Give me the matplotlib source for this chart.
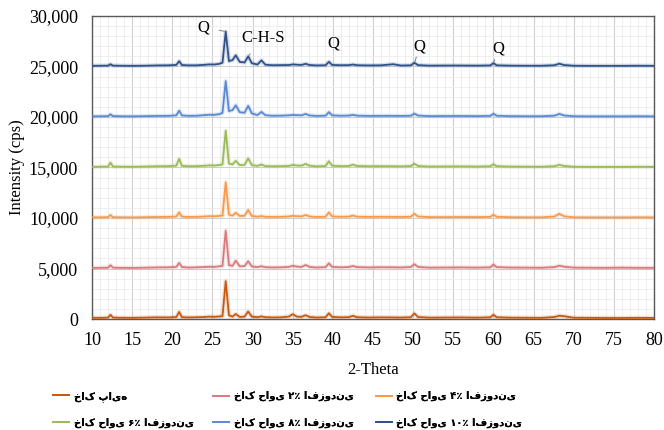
import matplotlib
matplotlib.use("Agg")
import matplotlib.pyplot as plt
from matplotlib.ticker import MultipleLocator, FuncFormatter

# 2-theta sample positions (denser around the peaks)
two_theta = [10, 11, 12, 12.3, 12.6,
             13.5, 15, 16.5, 18, 19.5,
             20.5, 20.85, 21.2, 22, 23,
             24, 24.6, 25.2, 25.8, 26.25,
             26.65, 27.05, 27.5, 27.9, 28.4,
             29.0, 29.45, 29.9, 30.6, 31.1,
             31.6, 32.5, 33.5, 34.5, 35.0,
             35.5, 36.1, 36.6, 37.1, 38,
             39.1, 39.5, 39.9, 41, 42,
             42.5, 43, 44.5, 46, 47.5,
             48.5, 49.7, 50.15, 50.6, 52,
             54, 56, 58, 59.6, 60.0,
             60.4, 62, 64, 66, 67.6,
             68.2, 68.8, 70, 72, 74,
             76, 78, 80]

# intensities (cps) above each curve's own offset
soil_0 = [130, 120, 140, 420, 150,
          130, 120, 140, 170, 160,
          200, 700, 190, 160, 180,
          200, 240, 220, 250, 290,
          3750, 380, 240, 500, 210,
          240, 750, 240, 180, 260,
          180, 160, 170, 240, 480,
          240, 220, 380, 200, 150,
          180, 580, 210, 170, 190,
          320, 180, 150, 170, 160,
          150, 180, 560, 200, 140,
          150, 160, 140, 170, 420,
          180, 140, 130, 120, 200,
          330, 280, 130, 120, 110,
          110, 120, 110]
soil_2 = [60, 70, 80, 330, 90,
          70, 60, 80, 110, 120,
          160, 560, 150, 100, 120,
          150, 180, 160, 210, 260,
          3750, 350, 260, 780, 220,
          240, 720, 210, 140, 230,
          130, 110, 120, 160, 270,
          190, 160, 350, 160, 100,
          140, 520, 160, 120, 150,
          250, 140, 110, 130, 120,
          110, 150, 430, 160, 90,
          100, 110, 90, 120, 400,
          140, 100, 90, 80, 140,
          280, 180, 90, 80, 70,
          90, 70, 70]
soil_4 = [60, 70, 80, 300, 80,
          70, 60, 80, 100, 110,
          150, 560, 140, 100, 110,
          150, 180, 170, 200, 250,
          3550, 330, 230, 520, 200,
          220, 800, 200, 130, 190,
          120, 110, 120, 150, 220,
          180, 160, 300, 150, 100,
          130, 560, 160, 120, 140,
          240, 130, 110, 120, 110,
          100, 130, 420, 150, 90,
          90, 100, 90, 110, 330,
          120, 80, 70, 70, 150,
          420, 170, 70, 60, 60,
          60, 70, 60]
soil_6 = [60, 80, 90, 480, 100,
          80, 70, 90, 120, 130,
          180, 850, 170, 120, 130,
          170, 210, 190, 240, 300,
          3650, 390, 300, 650, 240,
          260, 900, 240, 160, 290,
          140, 120, 130, 160, 250,
          200, 180, 360, 170, 110,
          150, 620, 180, 130, 150,
          280, 150, 120, 130, 120,
          110, 140, 380, 150, 90,
          100, 110, 90, 120, 320,
          130, 90, 80, 70, 130,
          260, 150, 70, 60, 60,
          60, 70, 60]
soil_8 = [60, 70, 80, 260, 90,
          70, 60, 80, 100, 110,
          160, 620, 150, 110, 120,
          180, 220, 210, 270, 400,
          3550, 580, 680, 1150, 470,
          420, 1100, 350, 190, 500,
          170, 120, 130, 160, 200,
          180, 160, 300, 150, 100,
          130, 480, 160, 120, 140,
          210, 130, 100, 110, 110,
          100, 120, 330, 140, 80,
          90, 100, 80, 110, 320,
          120, 80, 70, 70, 130,
          300, 150, 70, 60, 60,
          60, 70, 60]
soil_10 = [60, 70, 80, 220, 80,
           70, 60, 70, 100, 110,
           150, 520, 140, 110, 110,
           160, 200, 190, 250, 370,
           3450, 530, 630, 1100, 450,
           390, 1000, 320, 190, 600,
           170, 120, 130, 140, 200,
           170, 150, 260, 140, 100,
           120, 460, 150, 120, 130,
           190, 120, 100, 110, 220,
           90, 110, 360, 130, 80,
           90, 90, 80, 100, 330,
           110, 80, 70, 70, 120,
           270, 140, 70, 60, 60,
           60, 70, 60]

offsets = [0, 5000, 10000, 15000, 20000, 25000]
labels = ["خاک پایه",
          "خاک حاوی ۲٪ افزودنی",
          "خاک حاوی ۴٪ افزودنی",
          "خاک حاوی ۶٪ افزودنی",
          "خاک حاوی ۸٪ افزودنی",
          "خاک حاوی ۱۰٪ افزودنی"]
colors = ["#C55A11", "#D97B7D", "#F79A4B", "#9BBB59", "#5A8AD0", "#2F5289"]

# peak labels: text, peak position, text position
peak_names = ["Q", "C-H-S", "Q", "Q", "Q"]
peak_x = [26.65, 29.45, 39.5, 50.15, 60.0]
peak_y = [28450, 26000, 25500, 25300, 25300]
text_x = [23.9, 31.3, 40.1, 50.8, 60.6]
text_y = [28900, 27850, 27250, 27000, 26750]

plt.rcParams["font.family"] = ["Liberation Serif", "DejaVu Serif"]
fig = plt.figure(figsize=(6.64, 4.30), dpi=100)
ax = fig.add_axes([0.1386, 0.258, 0.8464, 0.705])

series = [soil_0, soil_2, soil_4, soil_6, soil_8, soil_10]
handles = []
for vals, off, col, lab in zip(series, offsets, colors, labels):
    y = [v + off for v in vals]
    ax.plot(two_theta, y, color=col, lw=3.2, alpha=0.18, zorder=2)
    h, = ax.plot(two_theta, y, color=col, lw=1.3, label=lab, zorder=3)
    handles.append(h)

for name, px, py, tx, ty in zip(peak_names, peak_x, peak_y, text_x, text_y):
    ax.annotate(name, xy=(px, py), xytext=(tx, ty), fontsize=12,
                ha="center", va="center",
                arrowprops=dict(arrowstyle="-", color="#808080", lw=0.7,
                                shrinkA=5, shrinkB=1))

ax.set_xlim(10, 80)
ax.set_ylim(0, 30000)
ax.xaxis.set_major_locator(MultipleLocator(5))
ax.xaxis.set_minor_locator(MultipleLocator(1))
ax.yaxis.set_major_locator(MultipleLocator(5000))
ax.yaxis.set_minor_locator(MultipleLocator(1000))
ax.yaxis.set_major_formatter(FuncFormatter(lambda v, p: f"{int(v):,}"))
ax.grid(which="major", color="#d0d0d0", lw=0.8, zorder=0)
ax.grid(which="minor", color="#ececec", lw=0.6, zorder=0)
ax.set_axisbelow(True)
ax.tick_params(which="both", length=0, labelsize=13)
ax.tick_params(axis="y", pad=10)
ax.tick_params(axis="x", pad=9)
for s in ax.spines.values():
    s.set_color("#595959")
    s.set_linewidth(1.0)

ax.set_xlabel("2-Theta", fontsize=12, labelpad=10)
ax.set_ylabel("Intensity (cps)", fontsize=12, labelpad=3)

# legend: 3 fixed columns, read row by row (excel style)
col_x = [0.080, 0.321, 0.566]
for c, x0 in enumerate(col_x):
    hs = [handles[c], handles[c + 3]]
    leg = fig.legend(hs, [h.get_label() for h in hs],
                     loc="center left", bbox_to_anchor=(x0, 0.048),
                     frameon=False, borderpad=0, borderaxespad=0,
                     prop={"family": "DejaVu Sans", "weight": "bold", "size": 7.2},
                     handlelength=1.6, handletextpad=0.45, labelspacing=1.6)
    fig.add_artist(leg)

fig.savefig("out.png", dpi=100)
